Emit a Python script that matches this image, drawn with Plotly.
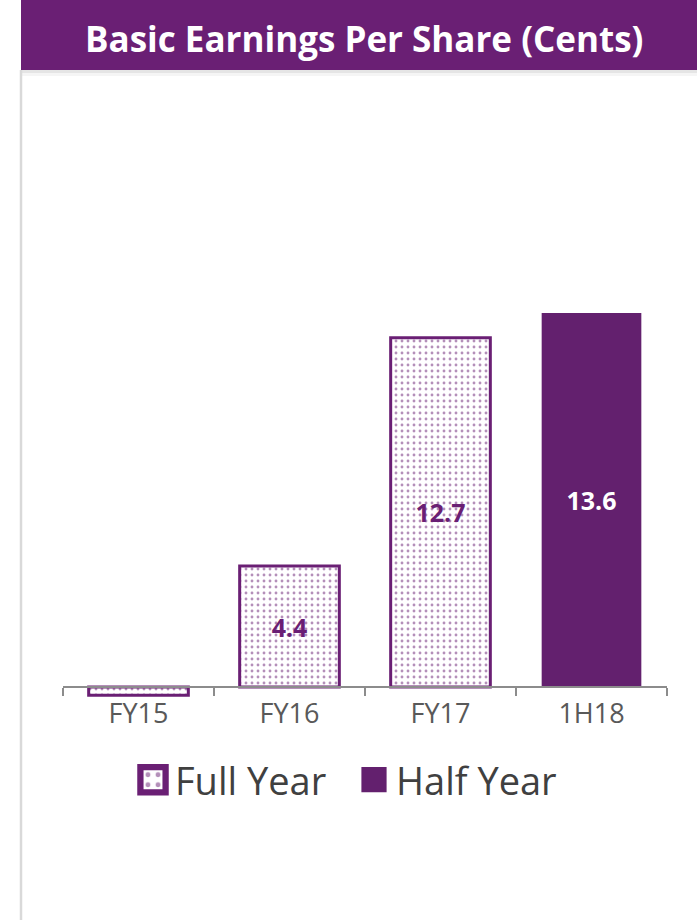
import plotly.graph_objects as go

# ---- data ----
categories_full = ["FY15", "FY16", "FY17"]
values_full = [-0.3, 4.4, 12.7]
categories_half = ["1H18"]
values_half = [13.6]
category_order = ["FY15", "FY16", "FY17", "1H18"]
series_names = ["Full Year", "Half Year"]
title_text = "Basic Earnings Per Share (Cents)"

# ---- style ----
PURPLE = "#6A1F74"
BAR_PURPLE = "#63206E"
AXIS_GRAY = "#8C8C8C"
TEXT_GRAY = "#595959"

W, H = 697, 920
ML, MR, MT, MB = 63, 30, 80, 220
plot_w = W - ML - MR
plot_h = H - MT - MB
px_per_unit = 27.5
y_min = -13 / px_per_unit
y_max = y_min + plot_h / px_per_unit


def pxx(px):
    return (px - ML) / plot_w


def pxy(py):
    return (H - MB - py) / plot_h


def fmt(vals):
    return [f"{v:.1f}" if v > 1 else "" for v in vals]


fig = go.Figure()
fig.add_trace(go.Bar(
    x=categories_full, y=values_full, name=series_names[0],
    marker=dict(color="white", line=dict(color=PURPLE, width=3),
                pattern=dict(shape=".", fgcolor=PURPLE, bgcolor="white",
                             size=6, solidity=0.18)),
    text=fmt(values_full), textposition="inside", insidetextanchor="middle",
    textfont=dict(family="Open Sans", size=25, color=PURPLE, weight="bold"),
    insidetextfont=dict(family="Open Sans", size=25, color=PURPLE, weight="bold"),
    hoverinfo="skip",
))
fig.add_trace(go.Bar(
    x=categories_half, y=values_half, name=series_names[1],
    marker=dict(color=BAR_PURPLE, line=dict(color=BAR_PURPLE, width=0)),
    text=fmt(values_half), textposition="inside", insidetextanchor="middle",
    textfont=dict(family="Open Sans", size=25, color="white", weight="bold"),
    insidetextfont=dict(family="Open Sans", size=25, color="white", weight="bold"),
    hoverinfo="skip",
))

zero_pos = (0 - y_min) / (y_max - y_min)

fig.update_layout(
    width=W, height=H,
    margin=dict(l=ML, r=MR, t=MT, b=MB),
    paper_bgcolor="white", plot_bgcolor="white",
    barmode="relative", bargap=0.34,
    showlegend=True,
    legend=dict(orientation="h", x=pxx(352), xanchor="center",
                y=pxy(780), yanchor="middle",
                font=dict(family="Open Sans", size=38, color="#404040"),
                traceorder="normal", itemwidth=34, entrywidth=172,
                entrywidthmode="pixels"),
    xaxis=dict(type="category", categoryorder="array", categoryarray=category_order,
               anchor="free", position=zero_pos,
               showline=True, linecolor=AXIS_GRAY, linewidth=1.5,
               ticks="outside", tickson="boundaries", ticklen=8,
               tickcolor=AXIS_GRAY, tickwidth=1.5, ticklabelstandoff=3,
               tickfont=dict(family="Open Sans", size=27, color=TEXT_GRAY),
               showgrid=False, zeroline=False, fixedrange=True),
    yaxis=dict(range=[y_min, y_max], visible=False, showgrid=False,
               zeroline=False, fixedrange=True),
    shapes=[
        dict(type="rect", xref="paper", yref="paper",
             x0=pxx(21), x1=pxx(697), y0=pxy(70), y1=pxy(0),
             fillcolor=PURPLE, line=dict(width=0), layer="above"),
        dict(type="rect", xref="paper", yref="paper",
             x0=pxx(21), x1=pxx(697), y0=pxy(73), y1=pxy(70),
             fillcolor="rgba(0,0,0,0.10)", line=dict(width=0)),
        dict(type="rect", xref="paper", yref="paper",
             x0=pxx(21), x1=pxx(697), y0=pxy(76), y1=pxy(73),
             fillcolor="rgba(0,0,0,0.04)", line=dict(width=0)),
        dict(type="line", xref="paper", yref="paper",
             x0=pxx(21), x1=pxx(21), y0=pxy(920), y1=pxy(70),
             line=dict(color="#D9D9D9", width=2.5)),
    ],
    annotations=[
        dict(text=title_text, xref="paper", yref="paper",
             x=pxx(364), y=pxy(38), xanchor="center", yanchor="middle",
             showarrow=False,
             font=dict(family="Open Sans", size=35, color="white", weight="bold")),
    ],
)

post = (
    "document.body.style.margin='0';"
    "document.querySelectorAll('.legendpoints path').forEach(function(p){"
    "var t=p.getAttribute('transform')||'';"
    "p.setAttribute('transform',t+' scale(2.1)');});"
)
fig.write_html("out.html", post_script=post, config={"displayModeBar": False})
